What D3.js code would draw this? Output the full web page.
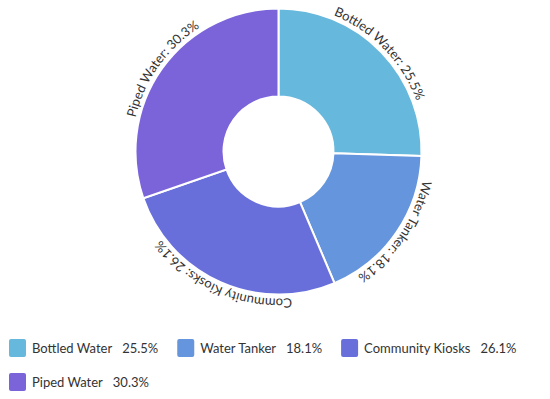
<!DOCTYPE html>
<html>
<head>
<meta charset="utf-8">
<script src="https://cdn.jsdelivr.net/npm/d3@7"></script>
<style>
  body { margin: 0; background: #fff; }
  svg { display: block; font-family: Lato, "Open Sans", sans-serif; }
</style>
</head>
<body>
<svg id="chart" width="550" height="399"></svg>
<script>
//// DATA

// Source categories
var categories = ["Bottled Water", "Water Tanker", "Community Kiosks", "Piped Water"];
// Share of each source (percent)
var shares = [25.5, 18.1, 26.1, 30.3];
// Slice colours
var colors = ["#66b8dc", "#6595dc", "#686fdb", "#7b64d9"];


//// MAIN

var svg = d3.select("#chart");

var cx = 278.5, cy = 151.5;
var outerR = 143, innerR = 55, labelR = 147;

var pie = d3.pie().sort(null).value(function(d) { return d; });
var arcs = pie(shares);

var arc = d3.arc().innerRadius(innerR).outerRadius(outerR);

var g = svg.append("g").attr("transform", "translate(" + cx + "," + cy + ")");

// Slices
g.selectAll("path.slice")
  .data(arcs)
  .enter()
  .append("path")
  .attr("class", "slice")
  .attr("d", arc)
  .attr("fill", function(d, i) { return colors[i]; })
  .attr("stroke", "#fff")
  .attr("stroke-width", 2);

// Label paths along the outer edge, one per slice
function labelPath(d) {
  var a0 = d.startAngle, a1 = d.endAngle;
  var x0 = labelR * Math.sin(a0), y0 = -labelR * Math.cos(a0);
  var x1 = labelR * Math.sin(a1), y1 = -labelR * Math.cos(a1);
  var large = (a1 - a0) > Math.PI ? 1 : 0;
  return "M" + x0 + "," + y0 + " A" + labelR + "," + labelR + " 0 " + large + " 1 " + x1 + "," + y1;
}

var defs = svg.append("defs");
defs.selectAll("path")
  .data(arcs)
  .enter()
  .append("path")
  .attr("id", function(d, i) { return "lp" + i; })
  .attr("d", labelPath);

g.selectAll("text.lbl")
  .data(arcs)
  .enter()
  .append("text")
  .attr("class", "lbl")
  .attr("font-size", 13)
  .attr("fill", "#333")
  .append("textPath")
  .attr("href", function(d, i) { return "#lp" + i; })
  .attr("startOffset", "50%")
  .attr("text-anchor", "middle")
  .text(function(d, i) { return categories[i] + ": " + shares[i] + "%"; });

// Legend (flow layout)
var legend = svg.append("g");
var lx = 9, ly = 348, rowH = 34, maxW = 548;

categories.forEach(function(name, i) {
  var item = legend.append("g");
  item.append("rect")
    .attr("x", 0).attr("y", -9)
    .attr("width", 17).attr("height", 18)
    .attr("rx", 2)
    .attr("fill", colors[i]);
  var t1 = item.append("text")
    .attr("x", 23).attr("y", 5)
    .attr("font-size", 13).attr("fill", "#333")
    .text(name);
  var w1 = t1.node().getComputedTextLength();
  var t2 = item.append("text")
    .attr("x", 23 + w1 + 10).attr("y", 5)
    .attr("font-size", 13).attr("fill", "#333")
    .text(shares[i].toFixed(1) + "%");
  var w2 = t2.node().getComputedTextLength();
  var itemW = 23 + w1 + 10 + w2;
  if (lx + itemW > maxW) { lx = 9; ly += rowH; }
  item.attr("transform", "translate(" + lx + "," + ly + ")");
  lx += itemW + 19;
});
</script>
</body>
</html>
